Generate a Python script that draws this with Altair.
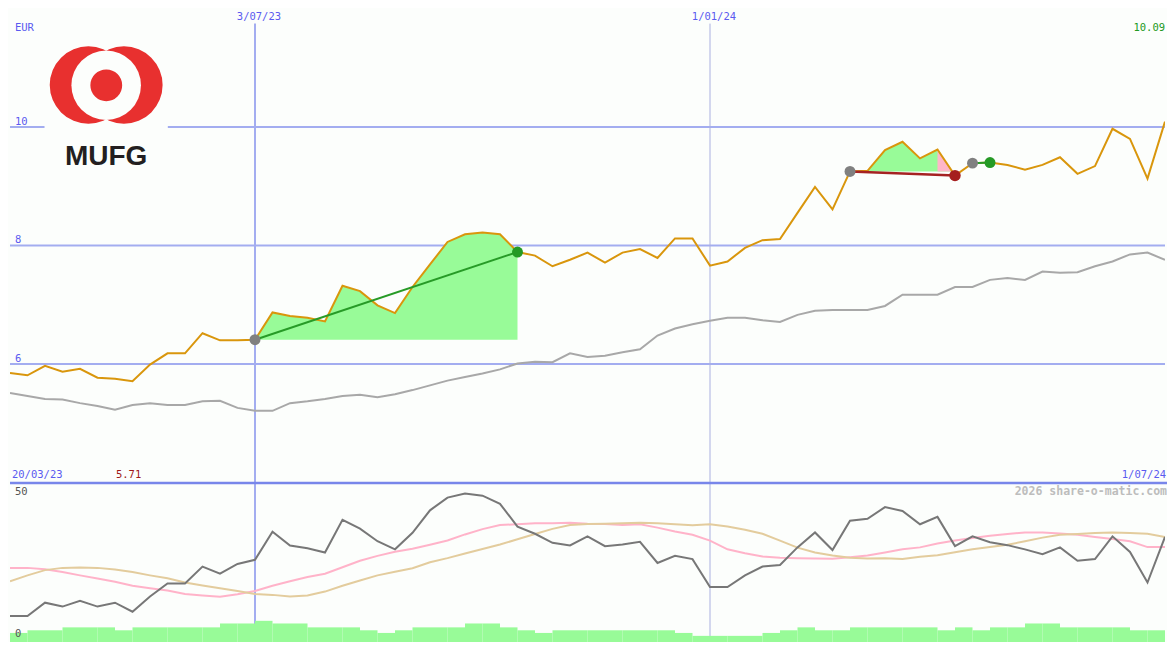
import altair as alt
import pandas as pd

# ---------------- values ----------------
price = [5.85, 5.81, 5.97, 5.87, 5.92, 5.77, 5.75, 5.71, 5.99, 6.18,
         6.18, 6.52, 6.40, 6.40, 6.41, 6.87, 6.81, 6.78, 6.72, 7.32,
         7.23, 6.99, 6.86, 7.30, 7.68, 8.06, 8.19, 8.22, 8.19, 7.89,
         7.83, 7.65, 7.76, 7.88, 7.71, 7.88, 7.94, 7.79, 8.12, 8.12,
         7.66, 7.73, 7.96, 8.09, 8.11, 8.55, 8.99, 8.61, 9.25, 9.26,
         9.61, 9.75, 9.47, 9.62, 9.18, 9.39, 9.40, 9.36, 9.28, 9.36,
         9.49, 9.21, 9.34, 9.97, 9.80, 9.13, 10.09]

moving_avg = [5.51, 5.46, 5.41, 5.40, 5.34, 5.29, 5.23, 5.31, 5.34, 5.31,
              5.31, 5.37, 5.38, 5.26, 5.21, 5.21, 5.34, 5.37, 5.41, 5.46,
              5.48, 5.44, 5.49, 5.56, 5.64, 5.72, 5.78, 5.84, 5.91, 6.01,
              6.04, 6.03, 6.18, 6.12, 6.14, 6.20, 6.25, 6.48, 6.60, 6.67,
              6.73, 6.78, 6.78, 6.74, 6.71, 6.83, 6.90, 6.91, 6.91, 6.91,
              6.98, 7.17, 7.17, 7.17, 7.30, 7.30, 7.42, 7.45, 7.42, 7.56,
              7.54, 7.55, 7.65, 7.73, 7.85, 7.88, 7.76]

osc_main = [8.37, 8.37, 13.04, 11.67, 13.73, 11.67, 13.04, 9.85, 15.24, 19.80,
            19.80, 25.74, 23.23, 26.66, 28.14, 37.99, 33.18, 32.16, 30.68, 42.21,
            39.12, 34.66, 31.81, 37.65, 45.54, 50.00, 51.48, 50.69, 47.84, 39.81,
            37.30, 34.11, 33.18, 36.38, 32.94, 33.53, 34.45, 27.01, 29.51, 28.38,
            18.53, 18.53, 22.65, 25.74, 26.32, 32.50, 37.75, 31.57, 41.87, 42.55,
            46.67, 45.30, 40.63, 43.24, 32.94, 36.38, 34.32, 33.29, 31.81, 30.10,
            32.50, 27.80, 28.38, 36.38, 30.89, 20.14, 36.17]

osc_pink = [25.29, 25.29, 24.78, 23.82, 22.65, 21.52, 20.38, 19.01, 18.09, 17.30,
            16.13, 15.58, 15.10, 16.03, 17.16, 19.01, 20.59, 22.10, 23.23, 25.53,
            27.80, 29.51, 30.95, 32.05, 33.43, 34.90, 37.06, 38.92, 40.39, 40.63,
            40.97, 40.97, 41.18, 40.84, 40.73, 40.39, 40.63, 39.46, 38.09, 36.96,
            34.90, 31.81, 30.44, 29.31, 28.83, 28.72, 28.62, 28.48, 29.07, 29.65,
            30.68, 31.81, 32.50, 33.87, 34.90, 35.83, 36.62, 37.20, 37.75, 37.75,
            37.41, 36.96, 36.17, 35.48, 34.66, 32.60, 32.60]

osc_tan = [20.59, 22.65, 24.50, 25.29, 25.39, 25.29, 24.71, 23.82, 22.65, 21.62,
           20.14, 19.11, 18.09, 17.16, 16.13, 15.79, 15.24, 15.58, 16.95, 19.01,
           20.83, 22.65, 23.92, 25.19, 27.25, 28.72, 30.34, 31.91, 33.53, 35.35,
           37.20, 39.02, 40.39, 40.73, 40.84, 40.97, 41.18, 40.97, 40.63, 40.29,
           40.63, 39.81, 38.68, 37.30, 34.90, 32.40, 30.68, 29.65, 28.83, 28.62,
           28.72, 28.38, 29.17, 29.75, 30.78, 31.81, 32.60, 33.43, 34.66, 35.93,
           36.96, 37.20, 37.54, 37.75, 37.54, 37.30, 36.17]

activity = [2.40, 3.33, 3.33, 4.36, 4.36, 4.36, 3.33, 4.36, 4.36, 4.36,
            4.36, 4.36, 5.73, 5.73, 6.66, 5.73, 5.73, 4.36, 4.36, 4.36,
            3.33, 2.40, 3.33, 4.36, 4.36, 4.36, 5.73, 5.73, 4.36, 3.33,
            2.40, 3.33, 3.33, 3.33, 3.33, 3.33, 3.33, 3.33, 2.40, 1.37,
            1.37, 1.37, 1.37, 2.40, 3.33, 4.36, 3.33, 3.33, 4.36, 4.36,
            4.36, 4.36, 4.36, 3.33, 4.36, 3.33, 4.36, 4.36, 5.73, 5.73,
            4.36, 4.36, 4.36, 4.36, 3.33, 3.33]

price_grid = [10, 8, 6]
osc_ticks = [50, 0]
date_idx = [14, 40]
date_lbl = ["3/07/23", "1/01/24"]
first_date = "20/03/23"
last_date = "1/07/24"
currency = "EUR"
watermark = "2026 share-o-matic.com"
company = "MUFG"
trade_entry = [14, 48, 55]
trade_exit = [29, 54, 56]

# ---------------- geometry / style ----------------
W, H = 1159, 634
SX, SY = W / 1175, H / 650


def px(x):
    return x * SX


def py(y):
    return y * SY


N = len(price)
TOP_DOMAIN = [3.992, 12.008]
BOT_DOMAIN = [-0.79, 55.15]
xs = alt.Scale(domain=[0, N - 1], nice=False, zero=False)
ts = alt.Scale(domain=TOP_DOMAIN, range=[py(487), 0], nice=False, zero=False)
bs = alt.Scale(domain=BOT_DOMAIN, range=[py(650), py(487)], nice=False, zero=False)


def X(f):
    return alt.X(f, scale=xs, axis=None)


def YT(f):
    return alt.Y(f, scale=ts, axis=None)


def YB(f):
    return alt.Y(f, scale=bs, axis=None)


BG = "#fcfefc"
GRID = "#a3adf0"
DIV = "#7886ea"
BLUE = "#5a5af0"
ORANGE = "#d9960c"
FONT = "DejaVu Sans Mono"
FS = 10.5
RED = "#e8302f"
AREA_S = ((SX + SY) / 2) ** 2

# ---------------- tables ----------------
df = pd.DataFrame({"i": list(range(N)), "price": price, "ma": moving_avg,
                   "osc": osc_main, "pink": osc_pink, "tan": osc_tan})
df_bar = pd.DataFrame({"i": list(range(len(activity))),
                       "i2": [k + 1 for k in range(len(activity))],
                       "v": activity})
df_grid = pd.DataFrame({"v": price_grid})
df_dates = pd.DataFrame({"i": date_idx, "lbl": date_lbl, "k": list(range(len(date_idx)))})
df_oticks = pd.DataFrame({"v": osc_ticks})
one = pd.DataFrame({"k": [0]})

fill_rows, seg_rows, trade_rows = [], [], []
for t, (a, b) in enumerate(zip(trade_entry, trade_exit)):
    base = price[a]
    res = "gain" if price[b] >= base else "loss"
    trade_rows.append({"t": t, "i": a, "p": price[a], "res": res, "end": "entry"})
    trade_rows.append({"t": t, "i": b, "p": price[b], "res": res, "end": "exit"})
    for k in range(a, b + 1):
        fill_rows.append({"t": t, "i": k, "p": price[k], "base": base})
    for j in range(a, b):
        if price[j + 1] < base:
            for k in (j, j + 1):
                seg_rows.append({"seg": f"{t}-{j}", "i": k, "p": price[k], "base": base})
df_fill = pd.DataFrame(fill_rows)
df_seg = pd.DataFrame(seg_rows)
df_tr = pd.DataFrame(trade_rows)

# ---------------- top panel ----------------
grid = alt.Chart(df_grid).mark_rule(color=GRID, strokeWidth=2).encode(y=YT("v:Q"))
v_major = alt.Chart(df_dates).transform_filter("datum.k == 0").mark_rule(
    color=GRID, strokeWidth=2).encode(x=X("i:Q"), y=alt.value(py(16)), y2=alt.value(H))
v_minor = alt.Chart(df_dates).transform_filter("datum.k != 0").mark_rule(
    color="#aab0e0", strokeWidth=1).encode(x=X("i:Q"), y=alt.value(py(16)), y2=alt.value(H))

ma_line = alt.Chart(df).mark_line(color="#a8a8a8", strokeWidth=2, clip=True).encode(
    x=X("i:Q"), y=YT("ma:Q"))

fill_gain = alt.Chart(df_fill).mark_area(color="#98fb98", opacity=1).encode(
    x=X("i:Q"), y=YT("p:Q"), y2="base:Q", detail="t:N")
fill_loss = alt.Chart(df_seg).mark_area(color="#ffb6c8", opacity=1).encode(
    x=X("i:Q"), y=YT("p:Q"), y2="base:Q", detail="seg:N")

price_line = alt.Chart(df).mark_line(color=ORANGE, strokeWidth=2, clip=True).encode(
    x=X("i:Q"), y=YT("price:Q"))

tr_gain = alt.Chart(df_tr).transform_filter("datum.res == 'gain'").mark_line(
    color="#279b27", strokeWidth=2).encode(x=X("i:Q"), y=YT("p:Q"), detail="t:N")
tr_loss = alt.Chart(df_tr).transform_filter("datum.res == 'loss'").mark_line(
    color="#a52222", strokeWidth=2.5).encode(x=X("i:Q"), y=YT("p:Q"), detail="t:N")

dot_entry = alt.Chart(df_tr).transform_filter("datum.end == 'entry'").mark_circle(
    size=120, color="#808080", opacity=1).encode(x=X("i:Q"), y=YT("p:Q"))
dot_gain = alt.Chart(df_tr).transform_filter("datum.end == 'exit' && datum.res == 'gain'").mark_circle(
    size=120, color="#259a25", opacity=1).encode(x=X("i:Q"), y=YT("p:Q"))
dot_loss = alt.Chart(df_tr).transform_filter("datum.end == 'exit' && datum.res == 'loss'").mark_circle(
    size=130, color="#a51e1e", opacity=1).encode(x=X("i:Q"), y=YT("p:Q"))

# logo
logo_bg = alt.Chart(one).mark_rect(color=BG).encode(
    x=alt.value(px(35)), x2=alt.value(px(160)), y=alt.value(py(30)), y2=alt.value(py(170)))
ring_l = alt.Chart(one).mark_circle(size=3.14159 * 44.5 ** 2 * AREA_S, color=RED, opacity=1).encode(
    x=alt.value(px(79.5)), y=alt.value(py(79)))
ring_r = alt.Chart(one).mark_circle(size=3.14159 * 44.5 ** 2 * AREA_S, color=RED, opacity=1).encode(
    x=alt.value(px(115.5)), y=alt.value(py(79)))
hole = alt.Chart(one).mark_circle(size=3.14159 * 40 ** 2 * AREA_S, color=BG, opacity=1).encode(
    x=alt.value(px(97.5)), y=alt.value(py(79.2)))
core = alt.Chart(one).mark_circle(size=3.14159 * 18.3 ** 2 * AREA_S, color=RED, opacity=1).encode(
    x=alt.value(px(97.6)), y=alt.value(py(79.3)))
logo_txt = alt.Chart(one).mark_text(text=company, font="Liberation Sans", fontWeight="bold",
                                    fontSize=28, color="#231f20", align="center",
                                    baseline="middle").encode(
    x=alt.value(px(97.5)), y=alt.value(py(153)))

# labels
txt = dict(font=FONT, fontSize=FS, baseline="middle")
eur = alt.Chart(one).mark_text(text=currency, align="left", color=BLUE, **txt).encode(
    x=alt.value(px(5)), y=alt.value(py(21)))
date_txt = alt.Chart(df_dates).mark_text(align="center", dx=px(4), color=BLUE, **txt).encode(
    x=X("i:Q"), y=alt.value(py(9)), text="lbl:N")
grid_txt = alt.Chart(df_grid).mark_text(align="left", dy=-py(5.6), color=BLUE, **txt).encode(
    x=alt.value(px(5)), y=YT("v:Q"), text=alt.Text("v:Q", format="d"))
max_txt = alt.Chart(df).transform_aggregate(mx="max(price)").mark_text(
    align="right", color="#229922", **txt).encode(
    x=alt.value(px(1171)), y=alt.value(py(21)), text=alt.Text("mx:Q", format=".2f"))
min_txt = alt.Chart(df).transform_joinaggregate(mn="min(price)").transform_filter(
    "datum.price == datum.mn").mark_text(align="center", dx=-px(4), color="#a01818", **txt).encode(
    x=X("i:Q"), y=alt.value(py(479)), text=alt.Text("price:Q", format=".2f"))
first_txt = alt.Chart(one).mark_text(text=first_date, align="left", color=BLUE, **txt).encode(
    x=alt.value(px(2)), y=alt.value(py(479)))
last_txt = alt.Chart(one).mark_text(text=last_date, align="right", color=BLUE, **txt).encode(
    x=alt.value(px(1172)), y=alt.value(py(479)))

# ---------------- bottom panel ----------------
pink_line = alt.Chart(df).mark_line(color="#ffb3c9", strokeWidth=2, clip=True).encode(
    x=X("i:Q"), y=YB("pink:Q"))
tan_line = alt.Chart(df).mark_line(color="#e3cc9d", strokeWidth=2, clip=True).encode(
    x=X("i:Q"), y=YB("tan:Q"))
osc_line = alt.Chart(df).mark_line(color="#777777", strokeWidth=2, clip=True).encode(
    x=X("i:Q"), y=YB("osc:Q"))
bars = alt.Chart(df_bar).mark_rect(color="#98fb98").encode(
    x=X("i:Q"), x2="i2:Q", y=YB("v:Q"), y2=alt.value(H))
divider = alt.Chart(one).mark_rule(color=DIV, strokeWidth=2.5).encode(
    x=alt.value(0), x2=alt.value(W), y=alt.value(py(487)))
otick_txt = alt.Chart(df_oticks).mark_text(align="left", dy=-py(6), color="#555555", **txt).encode(
    x=alt.value(px(5)), y=YB("v:Q"), text=alt.Text("v:Q", format="d"))
wm_txt = alt.Chart(one).mark_text(text=watermark, align="right", baseline="middle", font=FONT,
                                  fontSize=11.5, fontWeight="bold", color="#bdbdbd").encode(
    x=alt.value(px(1173)), y=alt.value(py(496)))

chart = alt.layer(
    grid, v_major, v_minor, ma_line, fill_gain, fill_loss, price_line,
    tr_gain, tr_loss, dot_entry, dot_gain, dot_loss,
    logo_bg, ring_l, ring_r, hole, core, logo_txt,
    eur, date_txt, grid_txt, max_txt, min_txt, first_txt, last_txt,
    pink_line, tan_line, osc_line, bars, divider, otick_txt, wm_txt,
).resolve_scale(y="independent").properties(
    width=W, height=H, padding=0, background=BG,
    autosize=alt.AutoSizeParams(type="fit", contains="padding"),
).configure_view(stroke=None)

chart.save("out.html", embed_options={"renderer": "svg", "actions": False})
